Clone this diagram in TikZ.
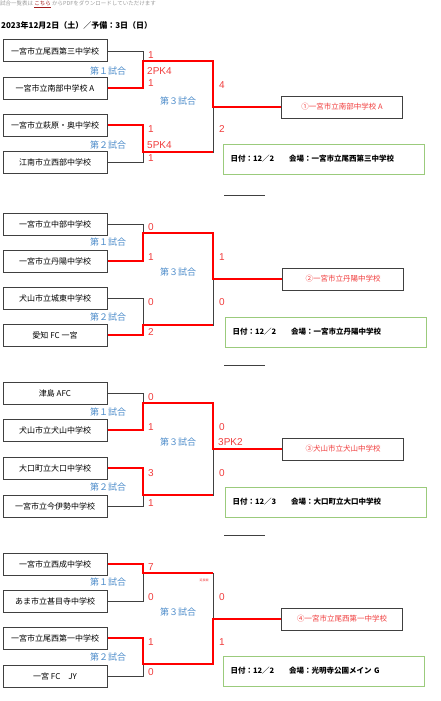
\documentclass[tikz,border=0pt]{standalone}
\usepackage{fontspec}
\usepackage{xcolor}
\usepackage{tikz}
\usetikzlibrary{positioning,calc}
\newfontfamily\jpfont{Noto Sans CJK JP}
\newfontfamily\numfont{Liberation Sans}
\definecolor{LineGray}{HTML}{404040}
\definecolor{WinRed}{HTML}{FF0000}
\definecolor{ScoreRed}{HTML}{F03C3C}
\definecolor{MatchBlue}{HTML}{4A8AC9}
\definecolor{InfoGreen}{HTML}{9BCB7C}
\definecolor{NoteGray}{HTML}{9A9A9A}
\definecolor{LinkRed}{HTML}{A01C1C}

\begin{document}
\begin{tikzpicture}[
      x=1pt, y=-1pt,
      team/.style = {draw=LineGray, line width=1pt, minimum width=104pt,
        minimum height=22pt, inner sep=0pt, font=\jpfont\fontsize{8}{9}\selectfont},
      winner/.style = {team, minimum width=121pt, text=ScoreRed,
        font=\jpfont\fontsize{7.5}{9}\selectfont},
      info/.style = {draw=InfoGreen, line width=0.9pt, text width=187pt,
        inner xsep=7pt, inner ysep=0pt, minimum height=30pt, align=left,
        font=\jpfont\bfseries\fontsize{7.5}{9}\selectfont},
      score/.style = {anchor=west, inner sep=0pt, text=ScoreRed,
        font=\numfont\fontsize{10}{10}\selectfont},
      match/.style = {inner sep=0pt, text=MatchBlue, font=\jpfont\fontsize{9}{9}\selectfont},
      lose/.style = {draw=LineGray, line width=0.9pt},
      win/.style = {draw=WinRed, line width=2.2pt},
      rule/.style = {draw=LineGray, line width=0.9pt}
    ]
    \useasboundingbox (0,0) rectangle (441,701);
    \node (note) [anchor=west, inner sep=0pt, text=NoteGray,
      font=\jpfont\fontsize{5.5}{6}\selectfont] at (0,4)
      {試合一覧表は {\color{LinkRed}\underline{こちら}} からPDFをダウンロードしていただけます};
    \node (date) [anchor=west, inner sep=0pt,
      font=\jpfont\bfseries\fontsize{8}{8}\selectfont] at (1,25)
      {2023年12月2日（土）／予備：3日（日）};

    \begin{scope}[shift={(0,40)}]
      \node (A1) [team] at (55,11) {一宮市立尾西第三中学校};
      \node (A2) [team] at (55,48) {一宮市立南部中学校 A};
      \node (A3) [team] at (55,85) {一宮市立萩原・奥中学校};
      \node (A4) [team] at (55,122) {江南市立西部中学校};
      \coordinate (AM1) at (143,21);
      \coordinate (AM2) at (143,112);
      \coordinate (AM3) at (213,67);
      \node (AW) [winner] at (342,67) {①一宮市立南部中学校 A};
      \node (AI) [info] at (324,119) {日付：12／2　　会場：一宮市立尾西第三中学校};
      \draw [lose] (A1.east) -| (AM1);
      \draw [lose] (A4.east) -| (AM2);
      \draw [lose] (AM2) -| (AM3);
      \draw [win] (A2.east) -| (AM1) -| (AM3) -- (AW.west);
      \draw [win] (A3.east) -| (AM2) -- (AM2 -| AM3);
      \node [match] at (108,31) {第１試合};
      \node [match] at (108,105) {第２試合};
      \node [match] at (178,61) {第３試合};
      \node [score] at (148,15) {1};
      \node [score] at (147,31) {2PK4};
      \node [score] at (148,43) {1};
      \node [score] at (148,89) {1};
      \node [score] at (147,105) {5PK4};
      \node [score] at (148,118) {1};
      \node [score] at (219,45) {4};
      \node [score] at (219,89) {2};
    \end{scope}
    \draw [rule] (224,195) -- (265,195);

    \begin{scope}[shift={(0,213)}]
      \node (B1) [team] at (55,11) {一宮市立中部中学校};
      \node (B2) [team] at (55,48) {一宮市立丹陽中学校};
      \node (B3) [team] at (55,85) {犬山市立城東中学校};
      \node (B4) [team] at (55,122) {愛知 FC 一宮};
      \coordinate (BM1) at (143,20);
      \coordinate (BM2) at (143,112);
      \coordinate (BM3) at (213,66);
      \node (BW) [winner] at (343,66) {②一宮市立丹陽中学校};
      \node (BI) [info] at (326,119) {日付：12／2　　会場：一宮市立丹陽中学校};
      \draw [lose] (B1.east) -| (BM1);
      \draw [lose] (B3.east) -| (BM2);
      \draw [lose] (BM2) -| (BM3);
      \draw [win] (B2.east) -| (BM1) -| (BM3) -- (BW.west);
      \draw [win] (B4.east) -| (BM2) -- (BM2 -| BM3);
      \node [match] at (108,29) {第１試合};
      \node [match] at (108,104) {第２試合};
      \node [match] at (178,59) {第３試合};
      \node [score] at (148,14) {0};
      \node [score] at (148,44) {1};
      \node [score] at (148,89) {0};
      \node [score] at (148,119) {2};
      \node [score] at (219,44) {1};
      \node [score] at (219,89) {0};
    \end{scope}
    \draw [rule] (224,365) -- (265,365);

    \begin{scope}[shift={(0,382)}]
      \node (C1) [team] at (55,11) {津島 AFC};
      \node (C2) [team] at (55,48) {犬山市立犬山中学校};
      \node (C3) [team] at (55,86) {大口町立大口中学校};
      \node (C4) [team] at (55,124) {一宮市立今伊勢中学校};
      \coordinate (CM1) at (143,21);
      \coordinate (CM2) at (143,113);
      \coordinate (CM3) at (213,67);
      \node (CW) [winner] at (343,67) {③犬山市立犬山中学校};
      \node (CI) [info] at (326,120) {日付：12／3　　会場：大口町立大口中学校};
      \draw [lose] (C1.east) -| (CM1);
      \draw [lose] (C4.east) -| (CM2);
      \draw [lose] (CM2) -| (CM3);
      \draw [win] (C2.east) -| (CM1) -| (CM3) -- (CW.west);
      \draw [win] (C3.east) -| (CM2) -- (CM2 -| CM3);
      \node [match] at (108,30) {第１試合};
      \node [match] at (108,105) {第２試合};
      \node [match] at (178,60) {第３試合};
      \node [score] at (148,15) {0};
      \node [score] at (148,45) {1};
      \node [score] at (148,91) {3};
      \node [score] at (148,121) {1};
      \node [score] at (219,45) {0};
      \node [score] at (218,60) {3PK2};
      \node [score] at (219,91) {0};
    \end{scope}
    \draw [rule] (224,535) -- (265,535);

    \begin{scope}[shift={(0,553)}]
      \node (D1) [team] at (55,11) {一宮市立西成中学校};
      \node (D2) [team] at (55,48) {あま市立甚目寺中学校};
      \node (D3) [team] at (55,85) {一宮市立尾西第一中学校};
      \node (D4) [team] at (55,123) {一宮 FC　JY};
      \coordinate (DM1) at (143,20);
      \coordinate (DM2) at (143,111);
      \coordinate (DM3) at (213,66);
      \node (DW) [winner] at (342,66) {④一宮市立尾西第一中学校};
      \node (DI) [info] at (324,118) {日付：12／2　　会場：光明寺公園メイン G};
      \draw [lose] (D2.east) -| (DM1);
      \draw [lose] (D4.east) -| (DM2);
      \draw [lose] (DM1) -| (DM3);
      \draw [win] (D1.east) -| (DM1) -- (DM1 -| DM3);
      \draw [win] (D3.east) -| (DM2) -| (DM3) -- (DW.west);
      \node [match] at (108,29) {第１試合};
      \node [match] at (108,104) {第２試合};
      \node [match] at (178,59) {第３試合};
      \node [inner sep=0pt, text=ScoreRed, font=\jpfont\fontsize{3}{3}\selectfont]
        at (204,27) {延長戦};
      \node [score] at (148,14) {7};
      \node [score] at (148,44) {0};
      \node [score] at (148,89) {1};
      \node [score] at (148,119) {0};
      \node [score] at (219,44) {0};
      \node [score] at (219,89) {1};
    \end{scope}
  \end{tikzpicture}
\end{document}
